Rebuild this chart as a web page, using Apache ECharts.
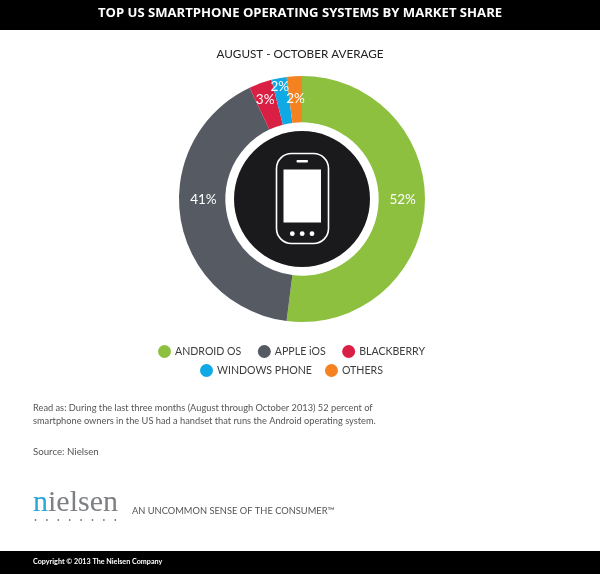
<!DOCTYPE html>
<html>
<head>
<meta charset="utf-8">
<style>html,body{margin:0;padding:0;background:#fff}#c{width:600px;height:574px}</style>
<script src="https://cdn.jsdelivr.net/npm/echarts@6/dist/echarts.min.js"></script>
</head>
<body>
<div id="c"></div>
<script>
const categories = ['ANDROID OS', 'APPLE iOS', 'BLACKBERRY', 'WINDOWS PHONE', 'OTHERS'];
const shares = [52, 41, 3, 2, 2];
const colors = ['#8dc03f', '#565a63', '#d91f43', '#0fa9e6', '#f58220'];
const labelOffsets = [[-2, -6], [3, -15], [-2, -3], [-3, -11], [0, 2]];
const legendRow1 = categories.slice(0, 3);
const legendRow2 = categories.slice(3);
const titleText = 'TOP US SMARTPHONE OPERATING SYSTEMS BY MARKET SHARE';
const subtitleText = 'AUGUST - OCTOBER AVERAGE';
const noteText = 'Read as: During the last three months (August through October 2013) 52 percent of\nsmartphone owners in the US had a handset that runs the Android operating system.';
const sourceText = 'Source: Nielsen';
const taglineText = 'AN UNCOMMON SENSE OF THE CONSUMER\u2122';
const copyrightText = 'Copyright \u00a9 2013 The Nielsen Company';

const FONT = 'Lato, "Open Sans", sans-serif';
const legendBase = {
  orient: 'horizontal', icon: 'circle', itemWidth: 13, itemHeight: 13, selectedMode: false, padding: 0,
  textStyle: { color: '#3c3c3e', fontFamily: FONT, fontSize: 10.6, padding: [0, 0, 0, -1] }
};
const dots = [];
for (let i = 0; i < 8; i++) {
  dots.push({ type: 'circle', shape: { cx: 35.5 + i * 11.4, cy: 520, r: 0.9 }, style: { fill: '#777' } });
}
const chart = echarts.init(document.getElementById('c'), null, { renderer: 'canvas' });
chart.setOption({
  animation: false,
  backgroundColor: '#ffffff',
  color: colors,
  legend: [
    Object.assign({}, legendBase, { data: legendRow1, left: 158, top: 345, itemGap: 16.5 }),
    Object.assign({}, legendBase, { data: legendRow2, left: 200, top: 364, itemGap: 13 })
  ],
  graphic: [
    { type: 'rect', z: 0, shape: { x: 0, y: 0, width: 600, height: 30 }, style: { fill: '#000' } },
    { type: 'rect', z: 0, shape: { x: 0, y: 551, width: 600, height: 23 }, style: { fill: '#000' } },
    { type: 'text', left: 'center', top: 7, style: { text: titleText, fill: '#fff', font: 'bold 13.1px "Open Sans"' } },
    { type: 'text', left: 'center', top: 48, style: { text: subtitleText, fill: '#222', font: '11.7px Lato' } },
    { type: 'text', left: 33, top: 401, style: { text: noteText, fill: '#555', font: '9.25px Lato', lineHeight: 13.5 } },
    { type: 'text', left: 33, top: 447, style: { text: sourceText, fill: '#555', font: '9.7px Lato' } },
    { type: 'text', left: 132, top: 506, style: { text: taglineText, fill: '#555', font: '9.3px Lato' } },
    { type: 'text', left: 33, top: 558, style: { text: copyrightText, fill: '#fff', font: 'bold 7.2px Lato' } },
    { type: 'text', x: 33, y: 488, style: { text: 'n', fill: '#2aa6d8', font: '30px "Liberation Serif"' } },
    { type: 'text', x: 48, y: 488, style: { text: 'ielsen', fill: '#7d7f82', font: '30px "Liberation Serif"' } },
    { type: 'group', children: dots },
    { type: 'circle', z: 5, shape: { cx: 302, cy: 199, r: 68 }, style: { fill: '#1a1a1c' } },
    { type: 'rect', z: 6, shape: { x: 276.5, y: 153.5, width: 52, height: 90, r: 15 }, style: { fill: 'transparent', stroke: '#fff', lineWidth: 1.6 } },
    { type: 'rect', z: 6, shape: { x: 283.5, y: 169.5, width: 37.5, height: 53 }, style: { fill: '#fff' } },
    { type: 'rect', z: 6, shape: { x: 296.5, y: 160, width: 11.5, height: 2.4, r: 1 }, style: { fill: '#fff' } },
    { type: 'circle', z: 6, shape: { cx: 292.3, cy: 233.7, r: 2.4 }, style: { fill: '#fff' } },
    { type: 'circle', z: 6, shape: { cx: 302.2, cy: 233.7, r: 2.4 }, style: { fill: '#fff' } },
    { type: 'circle', z: 6, shape: { cx: 312, cy: 233.7, r: 2.4 }, style: { fill: '#fff' } }
  ],
  series: [{
    type: 'pie',
    center: [302, 199],
    radius: [76.7, 123],
    startAngle: 90,
    clockwise: true,
    silent: true,
    avoidLabelOverlap: false,
    labelLayout: { hideOverlap: false },
    itemStyle: { borderWidth: 0 },
    labelLine: { show: false },
    label: { show: true, position: 'inside', color: '#fff', fontFamily: FONT, fontSize: 13.5, formatter: p => p.value + '%' },
    data: categories.map((name, i) => ({
      name, value: shares[i],
      label: { offset: labelOffsets[i] }
    }))
  }]
});
</script>
</body>
</html>
